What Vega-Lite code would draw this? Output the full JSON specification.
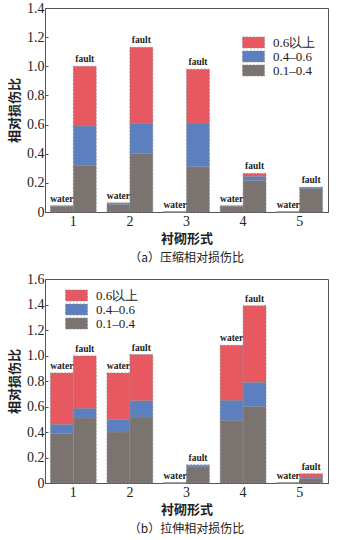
{
  "$schema": "https://vega.github.io/schema/vega-lite/v6.json",
  "padding": {"left": 8, "top": 0, "right": 2, "bottom": 2},
  "background": "white",
  "datasets": {
    "a": [
      {"group": "1", "series": "water", "band": "0.1–0.4", "value": 0.04},
      {"group": "1", "series": "water", "band": "0.4–0.6", "value": 0},
      {"group": "1", "series": "water", "band": "0.6以上", "value": 0},
      {"group": "1", "series": "fault", "band": "0.1–0.4", "value": 0.32},
      {"group": "1", "series": "fault", "band": "0.4–0.6", "value": 0.27},
      {"group": "1", "series": "fault", "band": "0.6以上", "value": 0.41},
      {"group": "2", "series": "water", "band": "0.1–0.4", "value": 0.052},
      {"group": "2", "series": "water", "band": "0.4–0.6", "value": 0.009},
      {"group": "2", "series": "water", "band": "0.6以上", "value": 0},
      {"group": "2", "series": "fault", "band": "0.1–0.4", "value": 0.40},
      {"group": "2", "series": "fault", "band": "0.4–0.6", "value": 0.21},
      {"group": "2", "series": "fault", "band": "0.6以上", "value": 0.52},
      {"group": "3", "series": "water", "band": "0.1–0.4", "value": 0},
      {"group": "3", "series": "water", "band": "0.4–0.6", "value": 0},
      {"group": "3", "series": "water", "band": "0.6以上", "value": 0},
      {"group": "3", "series": "fault", "band": "0.1–0.4", "value": 0.31},
      {"group": "3", "series": "fault", "band": "0.4–0.6", "value": 0.30},
      {"group": "3", "series": "fault", "band": "0.6以上", "value": 0.37},
      {"group": "4", "series": "water", "band": "0.1–0.4", "value": 0.04},
      {"group": "4", "series": "water", "band": "0.4–0.6", "value": 0},
      {"group": "4", "series": "water", "band": "0.6以上", "value": 0},
      {"group": "4", "series": "fault", "band": "0.1–0.4", "value": 0.215},
      {"group": "4", "series": "fault", "band": "0.4–0.6", "value": 0.03},
      {"group": "4", "series": "fault", "band": "0.6以上", "value": 0.02},
      {"group": "5", "series": "water", "band": "0.1–0.4", "value": 0},
      {"group": "5", "series": "water", "band": "0.4–0.6", "value": 0},
      {"group": "5", "series": "water", "band": "0.6以上", "value": 0},
      {"group": "5", "series": "fault", "band": "0.1–0.4", "value": 0.16},
      {"group": "5", "series": "fault", "band": "0.4–0.6", "value": 0.007},
      {"group": "5", "series": "fault", "band": "0.6以上", "value": 0.002}
    ],
    "b": [
      {"group": "1", "series": "water", "band": "0.1–0.4", "value": 0.388},
      {"group": "1", "series": "water", "band": "0.4–0.6", "value": 0.072},
      {"group": "1", "series": "water", "band": "0.6以上", "value": 0.403},
      {"group": "1", "series": "fault", "band": "0.1–0.4", "value": 0.51},
      {"group": "1", "series": "fault", "band": "0.4–0.6", "value": 0.077},
      {"group": "1", "series": "fault", "band": "0.6以上", "value": 0.41},
      {"group": "2", "series": "water", "band": "0.1–0.4", "value": 0.40},
      {"group": "2", "series": "water", "band": "0.4–0.6", "value": 0.10},
      {"group": "2", "series": "water", "band": "0.6以上", "value": 0.363},
      {"group": "2", "series": "fault", "band": "0.1–0.4", "value": 0.517},
      {"group": "2", "series": "fault", "band": "0.4–0.6", "value": 0.128},
      {"group": "2", "series": "fault", "band": "0.6以上", "value": 0.362},
      {"group": "3", "series": "water", "band": "0.1–0.4", "value": 0},
      {"group": "3", "series": "water", "band": "0.4–0.6", "value": 0},
      {"group": "3", "series": "water", "band": "0.6以上", "value": 0},
      {"group": "3", "series": "fault", "band": "0.1–0.4", "value": 0.126},
      {"group": "3", "series": "fault", "band": "0.4–0.6", "value": 0.013},
      {"group": "3", "series": "fault", "band": "0.6以上", "value": 0.002},
      {"group": "4", "series": "water", "band": "0.1–0.4", "value": 0.49},
      {"group": "4", "series": "water", "band": "0.4–0.6", "value": 0.16},
      {"group": "4", "series": "water", "band": "0.6以上", "value": 0.43},
      {"group": "4", "series": "fault", "band": "0.1–0.4", "value": 0.60},
      {"group": "4", "series": "fault", "band": "0.4–0.6", "value": 0.19},
      {"group": "4", "series": "fault", "band": "0.6以上", "value": 0.60},
      {"group": "5", "series": "water", "band": "0.1–0.4", "value": 0},
      {"group": "5", "series": "water", "band": "0.4–0.6", "value": 0},
      {"group": "5", "series": "water", "band": "0.6以上", "value": 0},
      {"group": "5", "series": "fault", "band": "0.1–0.4", "value": 0.034},
      {"group": "5", "series": "fault", "band": "0.4–0.6", "value": 0.013},
      {"group": "5", "series": "fault", "band": "0.6以上", "value": 0.026}
    ]
  },
  "spacing": 6,
  "vconcat": [
    {
      "width": 283,
      "height": 204,
      "data": {"name": "a"},
      "title": {"text": "（a）压缩相对损伤比", "orient": "bottom", "offset": 8},
      "encoding": {
        "x": {"field": "group", "type": "nominal", "title": "衬砌形式",
              "scale": {"paddingInner": 0.19, "paddingOuter": 0.095}},
        "xOffset": {"field": "series", "type": "nominal", "sort": ["water", "fault"], "scale": {"paddingInner": 0, "paddingOuter": 0}}
      },
      "layer": [
        {
          "transform": [{"calculate": "indexof(['0.1–0.4','0.4–0.6','0.6以上'], datum.band)", "as": "ord"}],
          "mark": {"type": "bar", "stroke": "#8c8c8c", "strokeDash": [2, 1.5], "strokeWidth": 0.8},
          "encoding": {
            "y": {"field": "value", "type": "quantitative", "stack": "zero", "title": "相对损伤比",
                  "scale": {"domain": [0, 1.4], "nice": false},
                  "axis": {"values": [0, 0.2, 0.4, 0.6, 0.8, 1.0, 1.2, 1.4], "labelOverlap": false, "labelExpr": "datum.value == 0 ? '0' : format(datum.value, '.1f')"}},
            "color": {"field": "band", "type": "nominal",
                      "scale": {"domain": ["0.6以上", "0.4–0.6", "0.1–0.4"], "range": ["#e85861", "#5b7fbf", "#7b7370"]},
                      "legend": {"orient": "none", "legendX": 202, "legendY": 28, "title": null}},
            "order": {"field": "ord", "type": "quantitative"}
          }
        },
        {
          "transform": [{"aggregate": [{"op": "sum", "field": "value", "as": "total"}], "groupby": ["group", "series"]}],
          "mark": {"type": "text", "baseline": "bottom", "dy": -2, "font": "Liberation Serif", "fontWeight": "bold", "fontSize": 9.5, "color": "#222"},
          "encoding": {
            "y": {"field": "total", "type": "quantitative", "title": "相对损伤比",
                  "axis": {"values": [0, 0.2, 0.4, 0.6, 0.8, 1.0, 1.2, 1.4], "labelOverlap": false, "labelExpr": "datum.value == 0 ? '0' : format(datum.value, '.1f')"}},
            "text": {"field": "series"}
          }
        }
      ]
    },
    {
      "width": 283,
      "height": 204,
      "data": {"name": "b"},
      "title": {"text": "（b）拉伸相对损伤比", "orient": "bottom", "offset": 8},
      "encoding": {
        "x": {"field": "group", "type": "nominal", "title": "衬砌形式",
              "scale": {"paddingInner": 0.19, "paddingOuter": 0.095}},
        "xOffset": {"field": "series", "type": "nominal", "sort": ["water", "fault"], "scale": {"paddingInner": 0, "paddingOuter": 0}}
      },
      "layer": [
        {
          "transform": [{"calculate": "indexof(['0.1–0.4','0.4–0.6','0.6以上'], datum.band)", "as": "ord"}],
          "mark": {"type": "bar", "stroke": "#8c8c8c", "strokeDash": [2, 1.5], "strokeWidth": 0.8},
          "encoding": {
            "y": {"field": "value", "type": "quantitative", "stack": "zero", "title": "相对损伤比",
                  "scale": {"domain": [0, 1.6], "nice": false},
                  "axis": {"values": [0, 0.2, 0.4, 0.6, 0.8, 1.0, 1.2, 1.4, 1.6], "labelOverlap": false, "labelExpr": "datum.value == 0 ? '0' : format(datum.value, '.1f')"}},
            "color": {"field": "band", "type": "nominal",
                      "scale": {"domain": ["0.6以上", "0.4–0.6", "0.1–0.4"], "range": ["#e85861", "#5b7fbf", "#7b7370"]},
                      "legend": {"orient": "none", "legendX": 25, "legendY": 10, "title": null}},
            "order": {"field": "ord", "type": "quantitative"}
          }
        },
        {
          "transform": [{"aggregate": [{"op": "sum", "field": "value", "as": "total"}], "groupby": ["group", "series"]}],
          "mark": {"type": "text", "baseline": "bottom", "dy": -2, "font": "Liberation Serif", "fontWeight": "bold", "fontSize": 9.5, "color": "#222"},
          "encoding": {
            "y": {"field": "total", "type": "quantitative", "title": "相对损伤比",
                  "axis": {"values": [0, 0.2, 0.4, 0.6, 0.8, 1.0, 1.2, 1.4, 1.6], "labelOverlap": false, "labelExpr": "datum.value == 0 ? '0' : format(datum.value, '.1f')"}},
            "text": {"field": "series"}
          }
        }
      ]
    }
  ],
  "resolve": {"scale": {"color": "independent"}},
  "config": {
    "view": {"stroke": "#555555", "strokeWidth": 1},
    "axis": {
      "grid": false,
      "labelFont": "Liberation Serif",
      "labelFontSize": 14,
      "labelColor": "#222222",
      "labelOverlap": false,
      "labelFlush": false,
      "domainColor": "#555555",
      "tickColor": "#555555",
      "tickSize": -3,
      "labelPadding": 4,
      "titleFont": "Noto Sans CJK SC",
      "titleFontSize": 13,
      "titleFontWeight": "bold",
      "titleColor": "#222222"
    },
    "axisX": {"labelAngle": 0, "titlePadding": 4, "labelPadding": 5},
    "axisY": {"titlePadding": 5},
    "legend": {
      "labelFont": "Liberation Serif",
      "labelFontSize": 13,
      "labelColor": "#222222",
      "symbolType": "M-2,-1H2V1H-2Z",
      "symbolSize": 121,
      "symbolStrokeColor": "#8c8c8c",
      "symbolStrokeWidth": 0.8,
      "symbolDash": [2, 1.5],
      "rowPadding": -4,
      "labelOffset": 13
    },
    "title": {"font": "Noto Sans CJK SC", "fontSize": 12, "fontWeight": "normal", "color": "#222222"}
  }
}
